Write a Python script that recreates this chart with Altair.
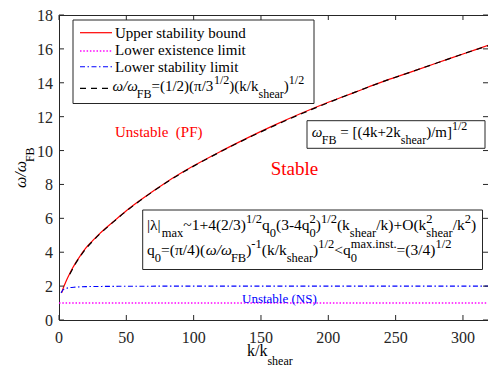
import altair as alt
import pandas as pd

# ---- curves: omega/omega_FB against k/k_shear ----
k_upper = [2, 3, 4, 6, 8, 10, 12, 15, 20, 25, 30, 40, 50, 60, 80, 100, 120,
           140, 160, 180, 200, 220, 240, 260, 280, 300, 320]
w_upper = [1.6, 1.85, 2.05, 2.42, 2.75, 3.05, 3.33, 3.7, 4.25, 4.68, 5.08,
           5.78, 6.45, 7.05, 8.15, 9.1, 9.95, 10.75, 11.5, 12.2, 12.85, 13.45,
           14.05, 14.6, 15.15, 15.7, 16.25]

k_fit = [8, 10, 12, 15, 20, 25, 30, 40, 50, 60, 80, 100, 120, 140, 160, 180,
         200, 220, 240, 260, 280, 300, 320]
w_fit = [2.7, 3.0, 3.29, 3.66, 4.21, 4.65, 5.05, 5.76, 6.43, 7.03, 8.13, 9.08,
         9.93, 10.73, 11.47, 12.17, 12.83, 13.45, 14.05, 14.6, 15.15, 15.7, 16.22]

k_stab = [1.5, 3, 5, 8, 12, 20, 30, 50, 100, 200, 320]
w_stab = [1.6, 1.78, 1.86, 1.91, 1.94, 1.97, 1.98, 1.99, 2.0, 2.0, 2.0]

k_exist = [0, 320]
w_exist = [1.0, 1.0]

x_ticks = [0, 50, 100, 150, 200, 250, 300]
y_ticks = [0, 2, 4, 6, 8, 10, 12, 14, 16, 18]

legend_names = ["Upper stability bound", "Lower existence limit",
                "Lower stability limit"]

# ---- geometry ----
W, H = 429, 305
XMAX, YMAX = 318.6, 18
SERIF = "Liberation Serif"
AX = "#262626"

xs = alt.Scale(domain=[0, XMAX], nice=False, zero=False)
ys = alt.Scale(domain=[0, YMAX], nice=False, zero=False)

# approximate Times advance widths (em units) for laying out sub/superscripts
EM = {' ': .25, '(': .333, ')': .333, '[': .333, ']': .333, '/': .278,
      '|': .2, '~': .541, '+': .564, '=': .564, '<': .564, '-': .333,
      '.': .25, 'ω': .67, 'λ': .55, 'π': .55,
      'a': .444, 'b': .5, 'c': .444, 'd': .5, 'e': .444, 'f': .333, 'g': .5,
      'h': .5, 'i': .278, 'k': .5, 'l': .278, 'm': .778, 'n': .5, 'o': .5,
      'p': .5, 'q': .5, 'r': .333, 's': .389, 't': .278, 'u': .5, 'x': .5,
      'y': .5, 'B': .667, 'F': .556, 'O': .722, 'N': .722, 'P': .556,
      'S': .556, 'U': .722}


def em(s):
    return sum(EM.get(c, 0.5) for c in s)


rows = []


def add_run(pieces, x0, y0, fs=15, ss=12, off=7, col="black"):
    x = x0
    for p in pieces:
        kind = p[0]
        if kind == "sp":
            x += p[1] * fs
        elif kind in ("n", "i"):
            rows.append(dict(px=x, py=y0, t=p[1], fs=fs, it=int(kind == "i"),
                             col=col, rot=0))
            x += em(p[1]) * fs
        elif kind == "sub":
            rows.append(dict(px=x, py=y0 + off, t=p[1], fs=ss, it=0, col=col, rot=0))
            x += em(p[1]) * ss
        elif kind == "sup":
            rows.append(dict(px=x, py=y0 - off, t=p[1], fs=ss, it=0, col=col, rot=0))
            x += em(p[1]) * ss
        elif kind == "both":
            rows.append(dict(px=x, py=y0 - off, t=p[1], fs=ss, it=0, col=col, rot=0))
            rows.append(dict(px=x, py=y0 + off, t=p[2], fs=ss, it=0, col=col, rot=0))
            x += max(em(p[1]), em(p[2])) * ss


# legend entries
add_run([("n", legend_names[0])], 56, 22.5)
add_run([("n", legend_names[1])], 56, 40)
add_run([("n", legend_names[2])], 56, 57)
add_run([("i", "ω/ω"), ("sub", "FB"), ("n", "=(1/2)(π/3"), ("sup", "1/2"),
         ("n", ")(k/k"), ("sub", "shear"), ("n", ")"), ("sup", "1/2")], 53.5, 76)

# region labels
add_run([("n", "Unstable"), ("sp", 0.5), ("n", "(PF)")], 56, 122, col="#ff0000")
add_run([("n", "Stable")], 211.7, 160, fs=19, col="#ff0000")
add_run([("n", "Unstable (NS)")], 183, 287.5, fs=13, col="#0000ff")

# natural frequency box
add_run([("i", "ω"), ("sub", "FB"), ("sp", 0.25), ("n", "= [(4k+2k"),
         ("sub", "shear"), ("n", ")/m]"), ("sup", "1/2")], 252.7, 122)

# growth-rate box
add_run([("n", "|λ|"), ("sub", "max"), ("n", "~1+4(2/3)"), ("sup", "1/2"),
         ("n", "q"), ("sub", "0"), ("n", "(3-4q"), ("both", "2", "0"),
         ("n", ")"), ("sup", "1/2"), ("n", "(k"), ("sub", "shear"),
         ("n", "/k)+O(k"), ("both", "2", "shear"), ("n", "/k"), ("sup", "2"),
         ("n", ")")], 88, 214.5, fs=15.5, ss=12.5)
add_run([("n", "q"), ("sub", "0"), ("n", "=(π/4)("), ("i", "ω/ω"),
         ("sub", "FB"), ("n", ")"), ("sup", "-1"), ("n", "(k/k"),
         ("sub", "shear"), ("n", ")"), ("sup", "1/2"), ("n", "<q"),
         ("both", "max.inst.", "0"), ("n", "=(3/4)"), ("sup", "1/2")], 88, 240,
        fs=15.5, ss=12.5)

# x axis title
add_run([("n", "k/k"), ("sub", "shear")], 188, 341, fs=16, ss=12, off=9)

# y axis title (rotated, reads bottom to top)
rows.append(dict(px=-33.5, py=173, t="ω/ω", fs=16, it=1, col="black", rot=1))
rows.append(dict(px=-25.5, py=173 - em("ω/ω") * 16, t="FB", fs=12, it=0,
                 col="black", rot=1))

notes = pd.DataFrame(rows)
notes["x"] = notes["px"] / W * XMAX
notes["y"] = YMAX * (1 - notes["py"] / H)


# ---- data layers ----
def line_df(k, w):
    return pd.DataFrame({"k": k, "w": w})


def plain_line(k, w, **kw):
    return alt.Chart(line_df(k, w)).mark_line(clip=True, **kw).encode(
        x=alt.X("k:Q", scale=xs, axis=None),
        y=alt.Y("w:Q", scale=ys, axis=None),
    )


upper = plain_line(k_upper, w_upper, color="#ff0000", strokeWidth=1.2,
                   interpolate="monotone")
exist = plain_line(k_exist, w_exist, color="#ff00ff", strokeWidth=1.6,
                   strokeDash=[1.5, 1.8])
stab = plain_line(k_stab, w_stab, color="#0000ff", strokeWidth=1.1,
                  strokeDash=[5, 2.5, 1.5, 2.5], interpolate="monotone")
fit = plain_line(k_fit, w_fit, color="black", strokeWidth=1.2,
                 strokeDash=[6, 5], interpolate="monotone")

# ---- inward ticks on all four sides, with labels ----
xt = pd.DataFrame({"v": x_ticks})
yt = pd.DataFrame({"v": y_ticks})
tick_bottom = alt.Chart(xt).mark_rule(color=AX, strokeWidth=1).encode(
    x=alt.X("v:Q", scale=xs, axis=None), y=alt.value(H), y2=alt.value(H - 5))
tick_top = alt.Chart(xt).mark_rule(color=AX, strokeWidth=1).encode(
    x=alt.X("v:Q", scale=xs, axis=None), y=alt.value(0), y2=alt.value(5))
tick_left = alt.Chart(yt).mark_rule(color=AX, strokeWidth=1).encode(
    y=alt.Y("v:Q", scale=ys, axis=None), x=alt.value(0), x2=alt.value(5))
tick_right = alt.Chart(yt).mark_rule(color=AX, strokeWidth=1).encode(
    y=alt.Y("v:Q", scale=ys, axis=None), x=alt.value(W), x2=alt.value(W - 5))

xlab = alt.Chart(xt).mark_text(
    font=SERIF, fontSize=16, color=AX, align="center", baseline="alphabetic"
).encode(x=alt.X("v:Q", scale=xs, axis=None), y=alt.value(H + 23), text="v:Q")
ylab = alt.Chart(yt).mark_text(
    font=SERIF, fontSize=16, color=AX, align="right", baseline="middle", dy=1
).encode(y=alt.Y("v:Q", scale=ys, axis=None), x=alt.value(-6), text="v:Q")


# ---- boxes ----
def box(x1, x2, y1, y2):
    return alt.Chart(pd.DataFrame({"a": [0]})).mark_rect(
        fill="white", stroke=AX, strokeWidth=1
    ).encode(x=alt.value(x1), x2=alt.value(x2), y=alt.value(y1), y2=alt.value(y2))


legend_box = box(14, 255, 5, 88.5)
freq_box = box(248, 426, 105.7, 133.3)
rate_box = box(83.7, 423.5, 195, 254.5)


# legend swatches
def swatch(y, **kw):
    return alt.Chart(pd.DataFrame({"a": [0]})).mark_rule(**kw).encode(
        x=alt.value(21), x2=alt.value(53), y=alt.value(y))


sw_up = swatch(17.7, color="#ff0000", strokeWidth=1.2)
sw_ex = swatch(36, color="#ff00ff", strokeWidth=1.6, strokeDash=[1.5, 1.8])
sw_st = swatch(51.7, color="#0000ff", strokeWidth=1.1, strokeDash=[5, 2.5, 1.5, 2.5])
sw_fit = swatch(73.3, color="black", strokeWidth=1.2, strokeDash=[6, 5])


# ---- text pieces ----
def text_layer(it, rot):
    extra = {"fontStyle": "italic"} if it else {}
    if rot:
        extra["angle"] = 270
    return alt.Chart(notes).transform_filter(
        f"datum.it == {it} && datum.rot == {rot}"
    ).mark_text(font=SERIF, align="left", baseline="alphabetic", **extra).encode(
        x=alt.X("x:Q", scale=xs, axis=None),
        y=alt.Y("y:Q", scale=ys, axis=None),
        text="t:N",
        size=alt.Size("fs:Q", scale=None),
        color=alt.Color("col:N", scale=None),
    )


chart = alt.layer(
    upper, exist, stab, fit,
    tick_bottom, tick_top, tick_left, tick_right, xlab, ylab,
    legend_box, freq_box, rate_box,
    sw_up, sw_ex, sw_st, sw_fit,
    text_layer(0, 0), text_layer(1, 0), text_layer(0, 1), text_layer(1, 1),
).properties(
    width=W, height=H,
    autosize=alt.AutoSizeParams(type="none"),
    padding={"left": 59, "top": 15, "right": 0, "bottom": 48},
    background="white",
).configure_view(stroke=AX, strokeWidth=1)

chart.save("out.html", embed_options={"renderer": "svg", "actions": False})
